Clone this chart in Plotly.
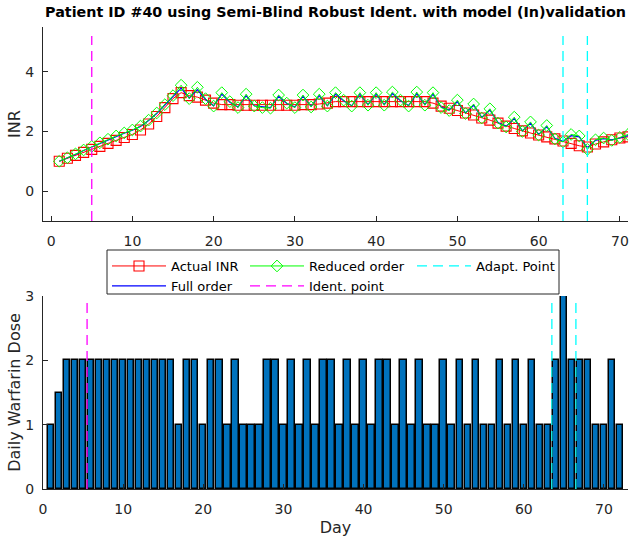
import plotly.graph_objects as go

# ---------------- data ----------------
inr_days = list(range(1, 72))
actual_inr = [1.00, 1.10, 1.20, 1.30, 1.40, 1.50, 1.60, 1.70, 1.80, 1.90,
              2.05, 2.25, 2.50, 2.80, 3.10, 3.30, 3.20, 3.15, 3.05, 2.95,
              2.90, 2.90, 2.88, 2.88, 2.88, 2.88, 2.88, 2.88, 2.88, 2.88,
              2.90, 2.90, 2.92, 2.95, 3.00, 3.00, 3.00, 3.00, 3.00, 3.00,
              3.00, 3.00, 3.00, 3.00, 3.00, 3.00, 2.95, 2.85, 2.78, 2.70,
              2.62, 2.55, 2.45, 2.38, 2.28, 2.18, 2.10, 2.02, 1.95, 1.88,
              1.82, 1.75, 1.68, 1.60, 1.52, 1.48, 1.58, 1.65, 1.72, 1.78,
              1.82]
full_order = [1.00, 1.11, 1.23, 1.36, 1.48, 1.60, 1.72, 1.83, 1.94, 2.04,
              2.17, 2.37, 2.60, 2.88, 3.18, 3.45, 3.12, 3.40, 3.08, 2.86,
              3.25, 2.98, 2.82, 3.20, 2.86, 2.82, 2.80, 3.18, 2.94, 2.82,
              3.18, 2.84, 3.20, 2.86, 3.25, 3.03, 2.86, 3.25, 2.90, 3.25,
              2.90, 3.27, 3.03, 2.87, 3.27, 2.90, 3.25, 2.82, 2.72, 3.00,
              2.62, 2.88, 2.47, 2.72, 2.30, 2.17, 2.44, 2.02, 2.28, 1.90,
              2.16, 1.77, 1.67, 1.86, 1.82, 1.45, 1.70, 1.76, 1.72, 1.78,
              1.86]
reduced_order = [1.00, 1.12, 1.25, 1.38, 1.50, 1.62, 1.74, 1.85, 1.95, 2.05,
                 2.18, 2.38, 2.62, 2.90, 3.20, 3.55, 3.10, 3.48, 3.10, 2.85,
                 3.30, 3.00, 2.80, 3.25, 2.85, 2.80, 2.78, 3.22, 2.95, 2.80,
                 3.22, 2.82, 3.25, 2.85, 3.30, 3.05, 2.85, 3.30, 2.88, 3.30,
                 2.88, 3.32, 3.05, 2.85, 3.32, 2.88, 3.30, 2.80, 2.70, 3.05,
                 2.60, 2.92, 2.45, 2.76, 2.28, 2.15, 2.48, 2.00, 2.32, 1.88,
                 2.20, 1.75, 1.65, 1.90, 1.85, 1.40, 1.72, 1.78, 1.70, 1.80,
                 1.90]

dose_days = list(range(1, 73))
daily_dose = [1, 1.5, 2, 2, 2, 2, 2, 2, 2, 2, 2, 2, 2, 2, 2, 2,
              1, 2, 2, 1, 2, 2, 1, 2, 1, 1, 1, 2, 2, 1,
              2, 1, 2, 1, 2, 2, 1, 2, 1, 2,
              1, 2, 2, 1, 2, 1, 2, 1, 1, 2,
              1, 2, 1, 2, 1, 1, 2, 1, 2, 1,
              2, 1, 1, 2, 3, 2, 2, 2, 1, 1, 2, 1]

ident_day_top = 5
adapt_days_top = [63, 66]
ident_day_bottom = 5.5
adapt_days_bottom = [63.5, 66.5]
top_line_span = [-1, 5.2]
bottom_line_span = [0, 2.9]

top_xticks = [0, 10, 20, 30, 40, 50, 60, 70]
top_yticks = [0, 2, 4]
bot_xticks = [0, 10, 20, 30, 40, 50, 60, 70]
bot_yticks = [0, 1, 2, 3]

# ---------------- styles ----------------
FONT = "DejaVu Sans"
AX = "#262626"
DASH = "10px,6px"


def vlines(xs, span):
    x, y = [], []
    for v in xs:
        x += [v, v, None]
        y += [span[0], span[1], None]
    return x, y


fig = go.Figure()

fig.add_trace(go.Scatter(x=inr_days, y=actual_inr, mode="lines+markers", name="Actual INR",
                         line=dict(color="#FF0000", width=1),
                         marker=dict(symbol="square-open", size=10, color="#FF0000", line=dict(width=1.1)),
                         xaxis="x", yaxis="y", legend="legend"))
fig.add_trace(go.Scatter(x=inr_days, y=full_order, mode="lines", name="Full order",
                         line=dict(color="#0000FF", width=1.2),
                         xaxis="x", yaxis="y", legend="legend"))
fig.add_trace(go.Scatter(x=inr_days, y=reduced_order, mode="lines+markers", name="Reduced order",
                         line=dict(color="#00FF00", width=1),
                         marker=dict(symbol="diamond-open", size=9, color="#00FF00", line=dict(width=1)),
                         xaxis="x", yaxis="y", legend="legend2"))
ix, iy = vlines([ident_day_top], top_line_span)
fig.add_trace(go.Scatter(x=ix, y=iy, mode="lines", name="Ident. point",
                         line=dict(color="#FF00FF", width=1.3, dash=DASH),
                         xaxis="x", yaxis="y", legend="legend2"))
ax_, ay_ = vlines(adapt_days_top, top_line_span)
fig.add_trace(go.Scatter(x=ax_, y=ay_, mode="lines", name="Adapt. Point",
                         line=dict(color="#00FFFF", width=1.3, dash=DASH),
                         xaxis="x", yaxis="y", legend="legend3"))

# bottom
fig.add_trace(go.Bar(x=dose_days, y=daily_dose, width=0.8, showlegend=False,
                     marker=dict(color="#0072BD", line=dict(color="#000000", width=1.5)),
                     xaxis="x2", yaxis="y2"))
bx, by = vlines([ident_day_bottom], bottom_line_span)
fig.add_trace(go.Scatter(x=bx, y=by, mode="lines", showlegend=False,
                         line=dict(color="#FF00FF", width=1.3, dash=DASH),
                         xaxis="x2", yaxis="y2"))
cx, cy = vlines(adapt_days_bottom, bottom_line_span)
fig.add_trace(go.Scatter(x=cx, y=cy, mode="lines", showlegend=False,
                         line=dict(color="#00FFFF", width=1.3, dash=DASH),
                         xaxis="x2", yaxis="y2"))

axis_common = dict(showline=True, linecolor=AX, linewidth=1, ticks="inside", ticklen=5,
                   tickcolor=AX, tickwidth=1, showgrid=False, zeroline=False,
                   tickfont=dict(family=FONT, size=14, color=AX))

legend_common = dict(orientation="v", xanchor="left", yanchor="top", bgcolor="rgba(0,0,0,0)",
                     borderwidth=0, font=dict(family=FONT, size=13, color="#000000"),
                     itemwidth=54, tracegroupgap=0, yref="paper", xref="paper")

W, H = 631, 540
L, R, T, B = 43, 3, 27, 51
pw, ph = W - L - R, H - T - B


def px_x(p):
    return (p - L) / pw


def px_y(p):
    return (H - B - p) / ph


fig.update_layout(
    width=W, height=H, autosize=False,
    margin=dict(l=L, r=R, t=T, b=B, pad=0),
    paper_bgcolor="white", plot_bgcolor="white",
    bargap=0,
    title=dict(text="<b>Patient ID #40 using Semi-Blind Robust Ident. with model (In)validation</b>",
               x=0.5, xref="paper", xanchor="center", y=1 - 12 / H, yref="container", yanchor="middle",
               font=dict(family=FONT, size=14.3, color="#000000")),
    xaxis=dict(domain=[0, 1], anchor="y", range=[-1, 71], tickvals=top_xticks,
               ticklabelstandoff=7, **axis_common),
    yaxis=dict(domain=[px_y(221), 1], anchor="x", range=[-1, 5.5], tickvals=top_yticks,
               ticklabelstandoff=5,
               title=dict(text="INR", font=dict(family=FONT, size=16, color=AX), standoff=0),
               **axis_common),
    xaxis2=dict(domain=[0, 1], anchor="y2", range=[0, 73], tickvals=bot_xticks,
                ticklabelstandoff=7,
                title=dict(text="Day", font=dict(family=FONT, size=16, color=AX), standoff=6),
                **axis_common),
    yaxis2=dict(domain=[0, px_y(296)], anchor="x2", range=[0, 3], tickvals=bot_yticks,
                ticklabelstandoff=5,
                title=dict(text="Daily Warfarin Dose", font=dict(family=FONT, size=16, color=AX), standoff=0),
                **axis_common),
    legend=dict(x=px_x(107), y=px_y(251), **legend_common),
    legend2=dict(x=px_x(245), y=px_y(251), **legend_common),
    legend3=dict(x=px_x(412), y=px_y(251), **legend_common),
    shapes=[dict(type="rect", xref="paper", yref="paper", x0=px_x(107), x1=px_x(559),
                 y0=px_y(294), y1=px_y(250), line=dict(color=AX, width=1),
                 fillcolor="rgba(0,0,0,0)", layer="above")],
    showlegend=True,
)

fig.write_html("out.html", config={"displayModeBar": False},
               post_script="document.body.style.margin='0px';")
